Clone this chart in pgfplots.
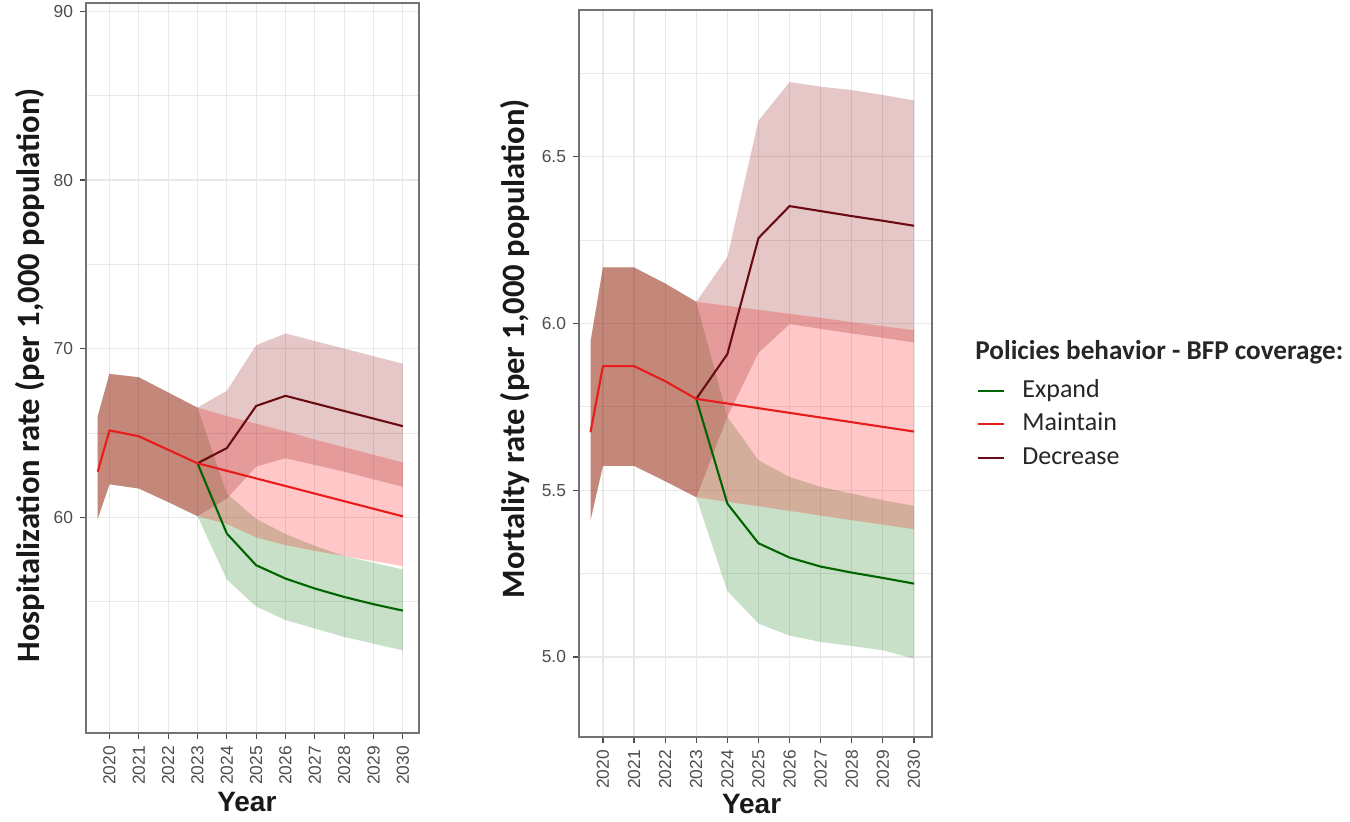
\documentclass[border=0pt]{standalone}
\usepackage{fontspec}
\setmainfont{Carlito}
\newfontfamily\lib{Liberation Sans}
\usepackage{pgfplots}
\pgfplotsset{compat=1.18}
\usepackage{pgfplotstable}
\usepgfplotslibrary{fillbetween}

\definecolor{cExpL}{RGB}{0,100,0}
\definecolor{cMaiL}{RGB}{232,28,28}
\definecolor{cDecL}{RGB}{105,12,18}
\definecolor{cExpF}{RGB}{0,115,0}
\definecolor{cMaiF}{RGB}{255,0,0}
\definecolor{cDecF}{RGB}{139,0,0}
\definecolor{gridc}{RGB}{232,232,232}
\definecolor{tickc}{RGB}{77,77,77}

% ---------- Hospitalization ----------
\pgfplotstableread{
x line up lo
2019.6 62.7 66.0 59.9
2020 65.15 68.5 61.95
2021 64.8 68.3 61.7
2022 64.0 67.4 60.9
2023 63.2 66.5 60.06
2024 59.03 61.4 56.3
2025 57.15 59.9 54.7
2026 56.36 59.0 53.9
2027 55.77 58.3 53.4
2028 55.27 57.7 52.9
2029 54.84 57.3 52.5
2030 54.46 56.9 52.1
}\hExp
\pgfplotstableread{
x line up lo
2019.6 62.7 66.0 59.9
2020 65.15 68.5 61.95
2021 64.8 68.3 61.7
2022 64.0 67.4 60.9
2023 63.2 66.5 60.06
2024 62.75 66.0 59.6
2025 62.3 65.55 58.8
2026 61.85 65.1 58.35
2027 61.4 64.6 58.0
2028 60.95 64.15 57.7
2029 60.5 63.7 57.4
2030 60.05 63.25 57.1
}\hMai
\pgfplotstableread{
x line up lo
2019.6 62.7 66.0 59.9
2020 65.15 68.5 61.95
2021 64.8 68.3 61.7
2022 64.0 67.4 60.9
2023 63.2 66.5 60.06
2024 64.1 67.5 61.1
2025 66.6 70.2 63.0
2026 67.2 70.9 63.5
2027 66.75 70.45 63.1
2028 66.3 70.0 62.7
2029 65.85 69.55 62.25
2030 65.4 69.1 61.8
}\hDec

% ---------- Mortality ----------
\pgfplotstableread{
x line up lo
2019.6 5.674 5.945 5.41
2020 5.872 6.168 5.573
2021 5.872 6.168 5.573
2022 5.827 6.12 5.527
2023 5.774 6.065 5.479
2024 5.46 5.72 5.198
2025 5.341 5.59 5.10
2026 5.298 5.54 5.064
2027 5.271 5.51 5.045
2028 5.253 5.49 5.033
2029 5.237 5.47 5.02
2030 5.22 5.453 4.995
}\mExp
\pgfplotstableread{
x line up lo
2019.6 5.674 5.945 5.41
2020 5.872 6.168 5.573
2021 5.872 6.168 5.573
2022 5.827 6.12 5.527
2023 5.774 6.065 5.479
2024 5.760 6.053 5.465
2025 5.746 6.041 5.452
2026 5.732 6.029 5.438
2027 5.718 6.017 5.424
2028 5.704 6.004 5.41
2029 5.690 5.992 5.397
2030 5.676 5.98 5.383
}\mMai
\pgfplotstableread{
x line up lo
2019.6 5.674 5.945 5.41
2020 5.872 6.168 5.573
2021 5.872 6.168 5.573
2022 5.827 6.12 5.527
2023 5.774 6.065 5.479
2024 5.908 6.199 5.72
2025 6.256 6.608 5.912
2026 6.352 6.724 5.998
2027 6.337 6.71 5.984
2028 6.322 6.70 5.97
2029 6.308 6.685 5.957
2030 6.293 6.669 5.943
}\mDec

\newcommand\band[3]{%
  \addplot[name path=#3u, draw=none, forget plot] table[x=x,y=up]{#1};
  \addplot[name path=#3l, draw=none, forget plot] table[x=x,y=lo]{#1};
  \addplot[fill=#2, fill opacity=0.22, draw=none, forget plot] fill between[of=#3u and #3l];
}

\pgfplotsset{
  panel/.style={
    scale only axis,
    axis line style={black!55, line width=0.7pt},
    xmajorgrids, ymajorgrids, yminorgrids,
    major grid style={gridc, line width=0.6pt},
    minor grid style={gridc, line width=0.4pt},
    tick align=outside, major tick length=3pt, minor tick length=0pt,
    tick style={black!70, line width=0.6pt},
    xtick={2020,2021,2022,2023,2024,2025,2026,2027,2028,2029,2030},
    xticklabels={2020,2021,2022,2023,2024,2025,2026,2027,2028,2029,2030},
    xticklabel style={rotate=90, anchor=east},
    ticklabel style={font=\lib\fontsize{8.7}{10}\selectfont, text=tickc},
    xtick pos=bottom, ytick pos=left,
    xlabel style={font=\lib\bfseries\fontsize{14}{16}\selectfont, text=black!90, anchor=center},
    ylabel style={font=\bfseries\fontsize{16.3}{18}\selectfont, text=black!90, anchor=center},
    clip=true,
  },
  lin/.style={line width=1.05pt, line join=round, forget plot},
}

\begin{document}
\begin{tikzpicture}

% ================= Left panel =================
\begin{axis}[panel,
  at={(43pt,44pt)}, anchor=south west,
  width=166.5pt, height=365pt,
  xmin=2019.2, xmax=2030.55,
  ymin=47.2, ymax=90.5,
  ytick={60,70,80,90}, yticklabels={60,70,80,90},
  minor ytick={55,65,75,85},
  xlabel={Year},
  xlabel style={at={(axis description cs:0.483,-0.094)}},
  ylabel={Hospitalization rate (per 1,000 population)},
  ylabel style={at={(axis description cs:-0.168,0.49)}},
]
\band{\hExp}{cExpF}{ha}
\band{\hMai}{cMaiF}{hb}
\band{\hDec}{cDecF}{hc}
\addplot[lin, cExpL, restrict x to domain=2023:2031] table[x=x,y=line]{\hExp};
\addplot[lin, cDecL, restrict x to domain=2023:2031] table[x=x,y=line]{\hDec};
\addplot[lin, cMaiL] table[x=x,y=line]{\hMai};
\end{axis}

% ================= Right panel =================
\begin{axis}[panel,
  at={(289.5pt,42pt)}, anchor=south west,
  width=176.5pt, height=363.5pt,
  xmin=2019.23, xmax=2030.58,
  ymin=4.76, ymax=6.94,
  ytick={5.0,5.5,6.0,6.5}, yticklabels={5.0,5.5,6.0,6.5},
  minor ytick={5.25,5.75,6.25,6.75},
  xlabel={Year},
  xlabel style={at={(axis description cs:0.489,-0.092)}},
  ylabel={Mortality rate (per 1,000 population)},
  ylabel style={at={(axis description cs:-0.181,0.534)}},
  legend style={at={(axis description cs:1.1275,0.494)}, anchor=north west,
    draw=none, fill=none, inner sep=0pt,
    font=\fontsize{13}{15}\selectfont, text=black!85,
    row sep=4.25pt,
    nodes={inner sep=0pt, text height=9.5pt, text depth=3pt},
    /tikz/every odd column/.append style={column sep=8.5pt}},
  legend cell align=left,
  legend image code/.code={\draw[#1] (0pt,0pt) -- (13pt,0pt);},
]
\band{\mExp}{cExpF}{ma}
\band{\mMai}{cMaiF}{mb}
\band{\mDec}{cDecF}{mc}
\addplot[lin, cExpL, restrict x to domain=2023:2031] table[x=x,y=line]{\mExp};
\addplot[lin, cDecL, restrict x to domain=2023:2031] table[x=x,y=line]{\mDec};
\addplot[lin, cMaiL] table[x=x,y=line]{\mMai};
\addlegendimage{cExpL, line width=1pt}
\addlegendentry{Expand}
\addlegendimage{cMaiL, line width=1pt}
\addlegendentry{Maintain}
\addlegendimage{cDecL, line width=1pt}
\addlegendentry{Decrease}
\end{axis}

\node[anchor=base west, inner sep=0pt, font=\bfseries\fontsize{13.6}{15}\selectfont, text=black!85]
  at (487.5pt,231pt) {Policies behavior - BFP coverage:};

\pgfresetboundingbox
\path[use as bounding box] (0,0) rectangle (675pt,410.5pt);
\end{tikzpicture}
\end{document}
